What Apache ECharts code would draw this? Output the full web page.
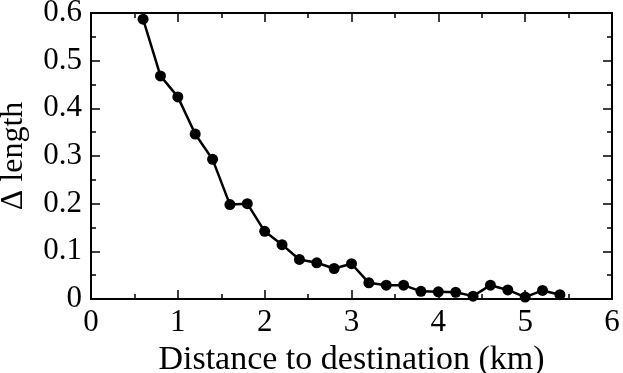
<!DOCTYPE html>
<html>
<head>
<meta charset="utf-8">
<script src="https://cdn.jsdelivr.net/npm/echarts@6/dist/echarts.min.js"></script>
<style>
  html, body { margin: 0; padding: 0; background: #fff; }
  #chart { width: 623px; height: 373px; }
</style>
</head>
<body>
<div id="chart"></div>
<script>
// distance to destination (km)
const distance = [0.6, 0.8, 1.0, 1.2, 1.4, 1.6, 1.8, 2.0, 2.2, 2.4, 2.6, 2.8, 3.0,
  3.2, 3.4, 3.6, 3.8, 4.0, 4.2, 4.4, 4.6, 4.8, 5.0, 5.2, 5.4]
// delta length
const deltaLength = [0.587, 0.468, 0.424, 0.346, 0.293, 0.198, 0.200, 0.142, 0.114, 0.083, 0.076, 0.064, 0.074,
  0.034, 0.029, 0.029, 0.016, 0.015, 0.014, 0.006, 0.029, 0.019, 0.004, 0.018, 0.009]

const font = 'Liberation Serif, Times New Roman, serif'
const axisLine = { show: true, onZero: false, lineStyle: { color: '#000', width: 2 } }
const tick = { show: true, inside: true, length: 9, lineStyle: { color: '#000', width: 1.5 } }
const minor = { show: true, splitNumber: 2, length: 5, lineStyle: { color: '#000', width: 1.5 } }

const chart = echarts.init(document.getElementById('chart'))
chart.setOption({
  animation: false,
  grid: { left: 91, top: 13, right: 11, bottom: 74, outerBoundsMode: 'none', containLabel: false },
  xAxis: [
    {
      type: 'value', min: 0, max: 6, interval: 1,
      name: 'Distance to destination (km)', nameLocation: 'middle', nameGap: 35,
      nameTextStyle: { fontFamily: font, fontSize: 34, color: '#000' },
      axisLine: axisLine, axisTick: tick, minorTick: minor,
      splitLine: { show: false },
      axisLabel: { fontFamily: font, fontSize: 31, color: '#000', margin: 8 }
    },
    {
      type: 'value', position: 'top', min: 0, max: 6, interval: 1,
      axisLine: axisLine, axisTick: tick, minorTick: minor,
      splitLine: { show: false }, axisLabel: { show: false }
    }
  ],
  yAxis: [
    {
      type: 'value', min: 0, max: 0.6, interval: 0.1,
      name: 'Δ length', nameLocation: 'middle', nameGap: 61,
      nameTextStyle: { fontFamily: font, fontSize: 32, color: '#000' },
      axisLine: axisLine, axisTick: tick, minorTick: minor,
      splitLine: { show: false },
      axisLabel: { fontFamily: font, fontSize: 31, color: '#000', margin: 9 }
    },
    {
      type: 'value', position: 'right', min: 0, max: 0.6, interval: 0.1,
      axisLine: axisLine, axisTick: tick, minorTick: minor,
      splitLine: { show: false }, axisLabel: { show: false }
    }
  ],
  series: [{
    type: 'line',
    data: distance.map((d, i) => [d, deltaLength[i]]),
    symbol: 'circle', symbolSize: 11,
    lineStyle: { color: '#000', width: 2.5 },
    itemStyle: { color: '#000' }
  }]
})
</script>
</body>
</html>
